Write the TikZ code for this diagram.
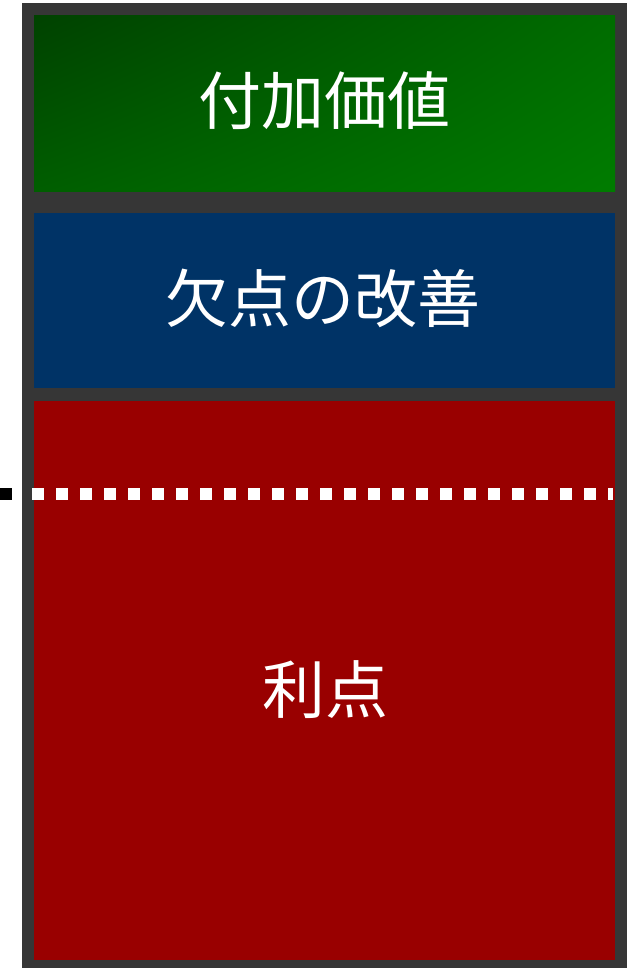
\documentclass[tikz,border=0pt]{standalone}
\usepackage{fontspec}
\usetikzlibrary{shadings}
\newfontfamily\cjk{Noto Sans CJK JP}
\definecolor{framegray}{HTML}{363636}
\definecolor{gUL}{HTML}{004200}
\definecolor{gUR}{HTML}{006C00}
\definecolor{gLL}{HTML}{005E00}
\definecolor{gLR}{HTML}{007C00}
\definecolor{boxblue}{HTML}{003366}
\definecolor{boxred}{HTML}{990000}
\tikzset{
  lbl/.style={text=white, font=\cjk\fontsize{63}{70}\selectfont, inner sep=0pt},
}
\begin{document}
\begin{tikzpicture}[x=1pt,y=-1pt]
\useasboundingbox (0,0) rectangle (631,968);
% frame
\fill[framegray] (22,3) rectangle (627,968);
% green box
\shade[upper left=gUL, upper right=gUR, lower left=gLL, lower right=gLR] (34,16) rectangle (615,192);
% blue box
\fill[boxblue] (34,213) rectangle (615,388);
% red box
\fill[boxred] (34,401) rectangle (615,960);
% dashed line
\fill[black] (0,488) rectangle (12,500);
\coordinate (dA) at (32,494);
\coordinate (dB) at (613,494);
\draw[white, line width=12pt, dash pattern=on 12pt off 12pt] (dA) -- (dB);
% labels
\node[lbl] (t1) at (324,101) {付加価値};
\node[lbl] (t2) at (323,298) {欠点の改善};
\node[lbl] (t3) at (325,690) {利点};
\end{tikzpicture}
\end{document}
